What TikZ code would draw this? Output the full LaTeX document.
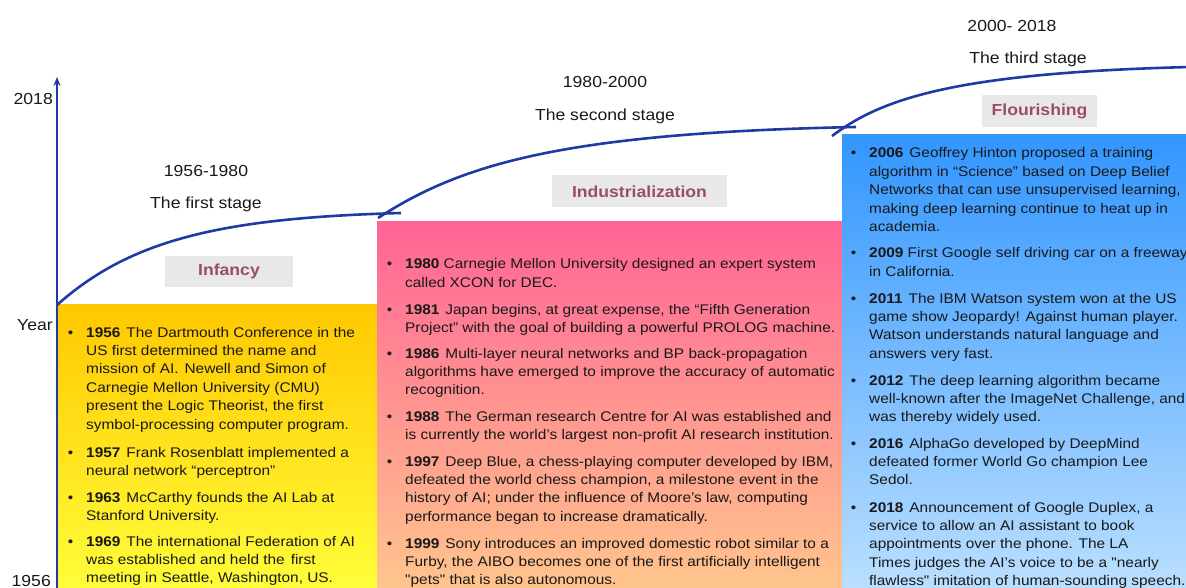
\documentclass[tikz,border=0pt]{standalone}
\usepackage{fontspec}
\setmainfont{Liberation Sans}[FakeStretch=1.1, Ligatures=TeXOff]
\usetikzlibrary{arrows.meta}
\definecolor{axisblue}{RGB}{32,58,165}
\definecolor{txt}{RGB}{25,25,25}
\definecolor{ttl}{RGB}{155,75,110}
\definecolor{ttlbg}{RGB}{232,232,232}
\definecolor{yTop}{RGB}{255,200,0}
\definecolor{yBot}{RGB}{255,255,60}
\definecolor{pTop}{RGB}{255,100,150}
\definecolor{pBot}{RGB}{255,200,140}
\definecolor{bTop}{RGB}{50,150,255}
\definecolor{bBot}{RGB}{190,225,255}
\newcommand\bodyfont{\fontsize{14}{18.4}\selectfont}
\newcommand\yr[1]{\textbf{#1}\hspace{6pt}}
\newcommand\itm[1]{\llap{\textbullet\hspace{13pt}}\parbox[t]{430pt}{\raggedright #1}}
\begin{document}
\begin{tikzpicture}[x=1pt,y=-1pt,
  entry/.style={anchor=base west, inner sep=0pt, font=\bodyfont, text=txt},
  head/.style={anchor=base, inner sep=0pt, font=\fontsize{16}{19}\selectfont, text=txt},
  axlab/.style={anchor=base east, inner sep=0pt, font=\fontsize{16}{19}\selectfont, text=txt},
  stagebox/.style={fill=ttlbg, inner sep=0pt, font=\fontsize{16}{19}\selectfont\bfseries, text=ttl},
  curve/.style={draw=axisblue, line width=2.6pt}]
\useasboundingbox (0,0) rectangle (1186,588);

% coloured panels
\shade[top color=yTop, bottom color=yBot] (57,304) rectangle (377,600);
\shade[top color=pTop, bottom color=pBot] (377,222) rectangle (842,600);
\shade[top color=bTop, bottom color=bBot] (842,135) rectangle (1190,600);

% axis
\coordinate (axB) at (57,600);
\coordinate (axT) at (57,77);
\draw[axisblue, line width=2.6pt, -{Stealth[length=9pt,width=7pt]}] (axB) -- (axT);
\node[axlab] (l2018) at (53,105) {2018};
\node[axlab] (lyear) at (53,330) {Year};
\node[axlab] (l1956) at (51,586) {1956};

% growth curves
\coordinate (c1s) at (57,305);
\coordinate (c1e) at (401,213);
\coordinate (c2s) at (378,218);
\coordinate (c2e) at (856,127);
\coordinate (c3s) at (832,136);
\coordinate (c3e) at (1190,67);
\draw[curve] (c1s) .. controls (130,240) and (220,218) .. (c1e);
\draw[curve] (c2s) .. controls (460,165) and (560,133) .. (c2e);
\draw[curve] (c3s) .. controls (880,100) and (950,73) .. (c3e);

% stage headings
\node[head] (h1a) at (206,177) {1956-1980};
\node[head] (h1b) at (206,209) {The first stage};
\node[head] (h2a) at (605,88) {1980-2000};
\node[head] (h2b) at (605,121) {The second stage};
\node[head] (h3a) at (1012,32) {2000- 2018};
\node[head] (h3b) at (1028,64) {The third stage};

% stage titles
\node[stagebox, minimum width=128pt, minimum height=31pt] (tInf) at (229,271) {Infancy};
\node[stagebox, minimum width=175pt, minimum height=32pt] (tInd) at (639.5,191.5) {Industrialization};
\node[stagebox, minimum width=115pt, minimum height=32pt] (tFlo) at (1039.5,111.5) {Flourishing};

% first stage entries
\node[entry] (e1956) at (86,337) {\itm{\yr{1956}The Dartmouth Conference in the\\US first determined the name and\\mission of AI.\hspace{6pt}Newell and Simon of\\Carnegie Mellon University (CMU)\\present the Logic Theorist, the first\\symbol-processing computer program.}};
\node[entry] (e1957) at (86,457) {\itm{\yr{1957}Frank Rosenblatt implemented a\\neural network “perceptron”}};
\node[entry] (e1963) at (86,502) {\itm{\yr{1963}McCarthy founds the AI Lab at\\Stanford University.}};
\node[entry] (e1969) at (86,546) {\itm{\yr{1969}The international Federation of AI\\was established and held the\hspace{6pt}first\\meeting in Seattle, Washington, US.}};

% second stage entries
\node[entry] (e1980) at (405,269) {\itm{\textbf{1980} Carnegie Mellon University designed an expert system\\called XCON for DEC.}};
\node[entry] (e1981) at (405,314) {\itm{\yr{1981}Japan begins, at great expense, the “Fifth Generation\\Project” with the goal of building a powerful PROLOG machine.}};
\node[entry] (e1986) at (405,358) {\itm{\yr{1986}Multi-layer neural networks and BP back-propagation\\algorithms have emerged to improve the accuracy of automatic\\recognition.}};
\node[entry] (e1988) at (405,421) {\itm{\yr{1988}The German research Centre for AI was established and\\is currently the world’s largest non-profit AI research institution.}};
\node[entry] (e1997) at (405,466) {\itm{\yr{1997}Deep Blue, a chess-playing computer developed by IBM,\\defeated the world chess champion, a milestone event in the\\history of AI; under the influence of Moore’s law, computing\\performance began to increase dramatically.}};
\node[entry] (e1999) at (405,548) {\itm{\yr{1999}Sony introduces an improved domestic robot similar to a\\Furby, the AIBO becomes one of the first artificially intelligent\\"pets" that is also autonomous.}};

% third stage entries
\node[entry] (e2006) at (869,158) {\itm{\yr{2006}Geoffrey Hinton proposed a training\\algorithm in “Science” based on Deep Belief\\Networks that can use unsupervised learning,\\making deep learning continue to heat up in\\academia.}};
\node[entry] (e2009) at (869,258) {\itm{\textbf{2009} First Google self driving car on a freeway\\in California.}};
\node[entry] (e2011) at (869,303) {\itm{\yr{2011}The IBM Watson system won at the US\\game show Jeopardy! Against human player.\\Watson understands natural language and\\answers very fast.}};
\node[entry] (e2012) at (869,385) {\itm{\yr{2012}The deep learning algorithm became\\well-known after the ImageNet Challenge, and\\was thereby widely used.}};
\node[entry] (e2016) at (869,448) {\itm{\yr{2016}AlphaGo developed by DeepMind\\defeated former World Go champion Lee\\Sedol.}};
\node[entry] (e2018) at (869,512) {\itm{\yr{2018}Announcement of Google Duplex, a\\service to allow an AI assistant to book\\appointments over the phone. The LA\\Times judges the AI’s voice to be a "nearly\\flawless" imitation of human-sounding speech.}};
\end{tikzpicture}
\end{document}
